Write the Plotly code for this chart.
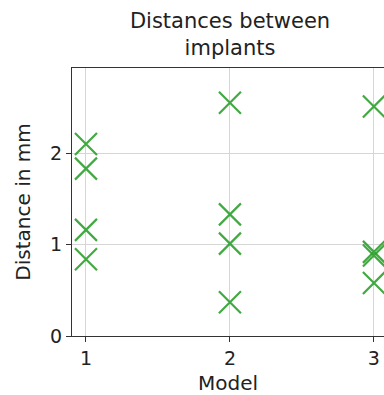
import plotly.graph_objects as go

models = [1, 1, 1, 1, 2, 2, 2, 2, 3, 3, 3, 3]
distances = [2.10, 1.83, 1.16, 0.84, 2.55, 1.33, 1.01, 0.37, 2.51, 0.92, 0.88, 0.58]
x_ticks = [1, 2, 3]
y_ticks = [0, 1, 2]

FONT = "DejaVu Sans"

fig = go.Figure()
fig.add_trace(go.Scatter(
    x=models, y=distances, mode="markers",
    marker=dict(symbol="x-thin-open", size=22, color="rgba(44,160,44,0.9)",
                line=dict(width=2.2, color="rgba(44,160,44,0.9)")),
    showlegend=False,
))

fig.update_layout(
    width=384, height=395,
    margin=dict(l=72, r=0, t=68, b=59),
    paper_bgcolor="white", plot_bgcolor="white",
    font=dict(family=FONT, size=19, color="#222"),
    title=dict(text="Distances between<br>implants", x=230/384, xanchor="center",
               y=1 - 28/395, yanchor="top", font=dict(size=21, family=FONT, color="#222")),
    xaxis=dict(
        range=[0.903, 3.07], tickvals=x_ticks, ticktext=[str(t) for t in x_ticks],
        showgrid=True, gridcolor="#d6d6d6", gridwidth=1,
        showline=True, linecolor="#333", linewidth=1.2, mirror=True,
        ticks="outside", ticklen=5, tickcolor="#333", zeroline=False,
        title=dict(text="Model", standoff=9, font=dict(size=20)),
    ),
    yaxis=dict(
        range=[0, 2.93], tickvals=y_ticks, ticktext=[str(t) for t in y_ticks],
        showgrid=True, gridcolor="#d6d6d6", gridwidth=1,
        showline=True, linecolor="#333", linewidth=1.2, mirror=False,
        ticks="outside", ticklen=5, tickcolor="#333", zeroline=False,
        title=dict(text="Distance in mm", standoff=14, font=dict(size=20)),
    ),
)

fig.write_html("out.html", config={"displayModeBar": False},
               post_script="document.body.style.margin='0';document.body.style.overflow='hidden';")
